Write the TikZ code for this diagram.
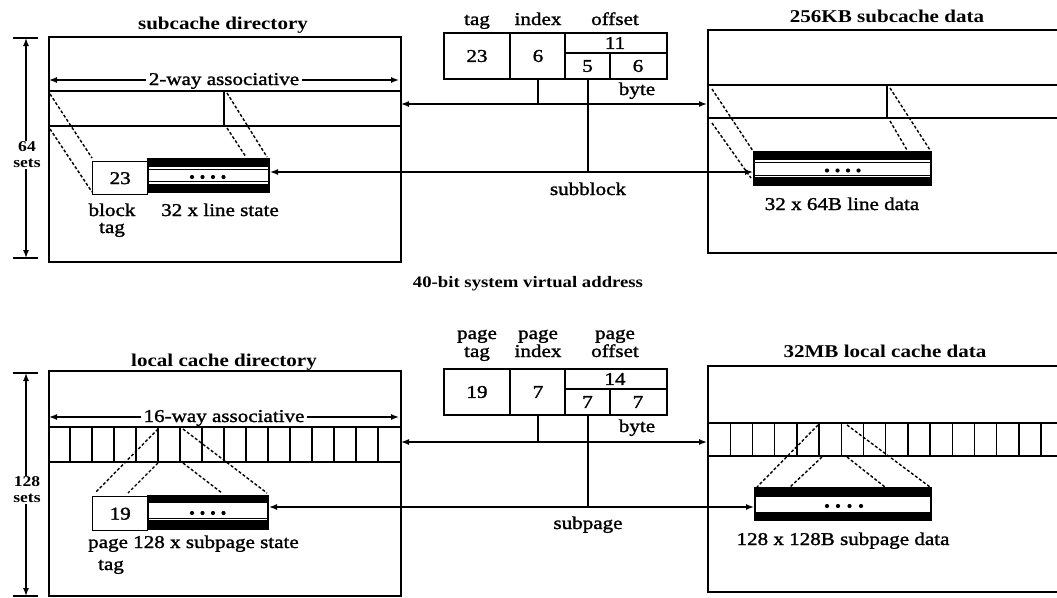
\documentclass[tikz,border=0pt]{standalone}
\usepackage{fontspec}
\setmainfont{Liberation Serif}[FakeStretch=1.17]
\newfontfamily\lblfont{Liberation Serif}[FakeStretch=1.17, FakeBold=1.5]
\usetikzlibrary{arrows.meta}
\begin{document}
\begin{tikzpicture}[x=1pt,y=-1pt,
  frame/.style={line width=1.8pt},
  ln/.style={line width=1.4pt},
  dl/.style={line width=1.4pt, dash pattern=on 3pt off 2pt},
  tips/.style={{Latex[length=8pt,width=6pt]}-{Latex[length=8pt,width=6pt]}},
  lbl/.style={font=\lblfont\fontsize{18}{17}\selectfont, inner sep=0pt, anchor=base},
  num/.style={font=\lblfont\fontsize{18}{17}\selectfont, inner sep=0pt},
  ttl/.style={font=\fontsize{18}{17}\selectfont\bfseries, inner sep=0pt, anchor=base},
  dim/.style={font=\fontsize{15}{16}\selectfont\bfseries, inner sep=1pt, align=center, fill=white},
  cell/.style={draw, ln, inner sep=0pt, anchor=north west},
  dot/.style={circle, fill=black, inner sep=0pt, minimum size=4.2pt},
]
\useasboundingbox (0,0) rectangle (1057,597);

% ================= TOP HALF =================
% subcache directory
\node[draw, frame, inner sep=0pt, minimum width=352pt, minimum height=225pt, anchor=north west] (dirA) at (48,36) {};
\node[ttl] (tdirA) at (223,29) {subcache directory};
% 64 sets dimension
\coordinate (dA1) at (26,38); \coordinate (dA2) at (26,258);
\draw[ln] (13,38) -- (38,38);
\draw[ln] (13,258) -- (38,258);
\draw[ln, tips] (dA1) -- (dA2);
\node[dim] (sA) at (27,155) {64\\sets};
% 2-way associative
\coordinate (wA1) at (49,80); \coordinate (wA2) at (399,80);
\draw[ln, tips] (wA1) -- (wA2);
\node[lbl, fill=white, inner xsep=3pt, inner ysep=2pt] (wAl) at (224,85) {2-way associative};
% strip
\draw[ln] (48,91) -- (400,91);
\draw[ln] (48,126) -- (400,126);
\draw[ln] (224,91) -- (224,126);
% dashed projection
\draw[dl] (50,94) -- (92,158);
\draw[dl] (50,129) -- (92,192);
\draw[dl] (227,93) -- (267,157);
\draw[dl] (227,128) -- (246,157);
% tag box + line state bar
\node[cell, minimum width=55pt, minimum height=33pt] (tagA) at (92,161) {};
\node[num] at (tagA.center) {23};
\fill (147,158) rectangle (270,193);
\fill[white] (149,167) rectangle (268,184);
\draw[line width=0.6pt] (149,169.5) -- (268,169.5);
\draw[line width=0.6pt] (149,181.5) -- (268,181.5);
\foreach \x in {192,202.5,213,223.5} \node[dot] at (\x,177) {};
\coordinate (barA) at (270,172);
\node[lbl] (blkA) at (112,216) {block};
\node[lbl] (btgA) at (112,233) {tag};
\node[lbl] (lsA) at (220,216) {32 x line state};

% address (top)
\node[draw, frame, inner sep=0pt, minimum width=223pt, minimum height=46pt, anchor=north west] (addrA) at (443,32) {};
\draw[ln] (510,32) -- (510,78);
\draw[ln] (565,32) -- (565,78);
\draw[ln] (565,53) -- (666,53);
\draw[ln] (610,53) -- (610,78);
\node[lbl] (htag) at (477,25) {tag};
\node[lbl] (hidx) at (538,25) {index};
\node[lbl] (hoff) at (615,25) {offset};
\node[num] at (477,56) {23};
\node[num] at (538,56) {6};
\node[num] at (615,43) {11};
\node[num] at (587.5,66) {5};
\node[num] at (638,66) {6};
\coordinate (ia) at (538,78); \coordinate (ib) at (538,104);
\coordinate (oa) at (588,78); \coordinate (ob) at (588,172);
\draw[ln] (ia) -- (ib);
\draw[ln] (oa) -- (ob);
\coordinate (byL) at (401,104); \coordinate (byR) at (707,104);
\draw[ln, tips] (byL) -- (byR);
\node[lbl] (byteA) at (637,95) {byte};
\coordinate (barB) at (753,172);
\draw[ln, tips] (barA) -- (barB);
\node[lbl] (sbA) at (588,195) {subblock};

% 256KB subcache data
\draw[frame] (1062,30) -- (708,30) -- (708,253) -- (1062,253);
\node[ttl] (tdatA) at (887,22) {256KB subcache data};
\draw[ln] (708,85) -- (1062,85);
\draw[ln] (708,118) -- (1062,118);
\draw[ln] (887,85) -- (887,118);
\draw[dl] (712,89) -- (753,151);
\draw[dl] (712,123) -- (751,178);
\draw[dl] (890,88) -- (930,150);
\draw[dl] (890,121) -- (907,150);
\fill (753,151) rectangle (932,186);
\fill[white] (755,160) rectangle (930,177);
\draw[line width=0.6pt] (755,162.5) -- (930,162.5);
\draw[line width=0.6pt] (755,175) -- (930,175);
\foreach \x in {827,837.5,848,858.5} \node[dot] at (\x,170.5) {};
\node[lbl] (ldA) at (842,210) {32 x 64B line data};

\node[font=\fontsize{16}{15}\selectfont\bfseries, inner sep=0pt, anchor=base] (vaddr) at (528,287) {40-bit system virtual address};

% ================= BOTTOM HALF =================
\node[draw, frame, inner sep=0pt, minimum width=352pt, minimum height=225pt, anchor=north west] (dirB) at (48,370) {};
\node[ttl] (tdirB) at (224,366) {local cache directory};
\coordinate (dB1) at (26,373); \coordinate (dB2) at (26,596);
\draw[ln] (13,373) -- (38,373);
\draw[ln] (13,596) -- (38,596);
\draw[ln, tips] (dB1) -- (dB2);
\node[dim] (sB) at (27,490) {128\\sets};
\coordinate (wB1) at (49,417); \coordinate (wB2) at (399,417);
\draw[ln, tips] (wB1) -- (wB2);
\node[lbl, fill=white, inner xsep=3pt, inner ysep=2pt] (wBl) at (224,422) {16-way associative};
\draw[ln] (48,427) -- (400,427);
\draw[ln] (48,462) -- (400,462);
\foreach \k in {1,...,15} \draw[ln] (48+22*\k,427) -- (48+22*\k,462);
\draw[dl] (158,429) -- (95,493);
\draw[dl] (158,463) -- (128,493);
\draw[dl] (183,429) -- (267,493);
\draw[dl] (183,463) -- (222,493);
\node[cell, minimum width=55pt, minimum height=34pt] (tagB) at (92,496) {};
\node[num] at (tagB.center) {19};
\fill (147,495) rectangle (269,530);
\fill[white] (149,503) rectangle (267,520);
\draw[line width=0.6pt] (149,518) -- (267,518);
\draw[line width=0.6pt] (149,523.5) -- (267,523.5);
\foreach \x in {192,202.5,213,223.5} \node[dot] at (\x,513) {};
\coordinate (barC) at (269,507);
\node[lbl, anchor=base west] (pgB) at (88,548) {page 128 x subpage state};
\node[lbl] (ptgB) at (111,570) {tag};

% address (bottom)
\node[draw, frame, inner sep=0pt, minimum width=223pt, minimum height=46pt, anchor=north west] (addrB) at (443,368) {};
\draw[ln] (510,368) -- (510,414);
\draw[ln] (565,368) -- (565,414);
\draw[ln] (565,389) -- (666,389);
\draw[ln] (610,389) -- (610,414);
\node[lbl] at (477,339) {page};
\node[lbl] at (477,357) {tag};
\node[lbl] at (538,339) {page};
\node[lbl] at (538,357) {index};
\node[lbl] at (615,339) {page};
\node[lbl] at (615,357) {offset};
\node[num] at (477,392) {19};
\node[num] at (538,392) {7};
\node[num] at (615,379) {14};
\node[num] at (587.5,402) {7};
\node[num] at (638,402) {7};
\coordinate (ic) at (538,414); \coordinate (id) at (538,442);
\coordinate (oc) at (588,414); \coordinate (od) at (588,507);
\draw[ln] (ic) -- (id);
\draw[ln] (oc) -- (od);
\coordinate (byL2) at (401,442); \coordinate (byR2) at (707,442);
\draw[ln, tips] (byL2) -- (byR2);
\node[lbl] (byteB) at (637,432) {byte};
\coordinate (barD) at (754,507);
\draw[ln, tips] (barC) -- (barD);
\node[lbl] (spB) at (588,529) {subpage};

% 32MB local cache data
\draw[frame] (1062,366) -- (708,366) -- (708,592) -- (1062,592);
\node[ttl] (tdatB) at (885,357) {32MB local cache data};
\draw[ln] (708,423) -- (1062,423);
\draw[ln] (708,456) -- (1062,456);
\foreach \k in {1,...,16} \draw[ln] (708+22.2*\k,423) -- (708+22.2*\k,456);
\draw[dl] (818,425) -- (757,487);
\draw[dl] (822,457) -- (790,487);
\draw[dl] (847,425) -- (930,487);
\draw[dl] (847,457) -- (885,487);
\fill (754,487) rectangle (932,521);
\fill[white] (756,497) rectangle (930,512);
\draw[line width=0.6pt] (756,490.5) -- (930,490.5);
\draw[line width=0.6pt] (756,515.5) -- (930,515.5);
\foreach \x in {827,838,849.5,861} \node[dot] at (\x,506) {};
\node[lbl] (ldB) at (843,545) {128 x 128B subpage data};
\end{tikzpicture}
\end{document}
